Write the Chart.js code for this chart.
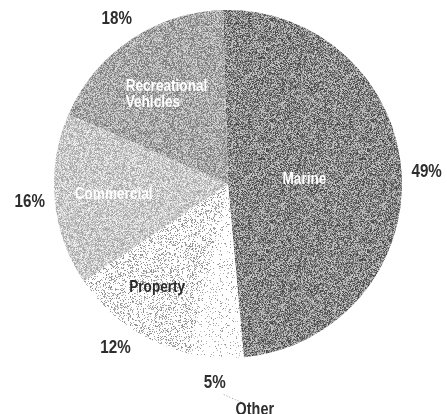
<!DOCTYPE html>
<html>
<head>
<meta charset="utf-8">
<script src="https://cdn.jsdelivr.net/npm/chart.js@4/dist/chart.umd.min.js"></script>
<style>
  html, body { margin: 0; padding: 0; background: #ffffff; }
  canvas { display: block; }
</style>
</head>
<body>
<canvas id="c" width="447" height="414"></canvas>
<script>
// ---- data ----
const categories = ['Marine', 'Other', 'Property', 'Commercial', 'Recreational Vehicles'];
const shares = [49, 5, 12, 16, 18];
const percentLabels = ['49%', '5%', '12%', '16%', '18%'];
const insideLabels = [['Marine'], [], ['Property'], ['Commercial'], ['Recreational', 'Vehicles']];
const outsideNames = ['', 'Other', '', '', ''];

// ---- styles ----
const FONT = '"Liberation Sans", Arial, sans-serif';
// texture: noise -> mean, amplitude ; dots -> dotGrey, probability, paper
const textures = [
  ['noise', 136, 150],
  ['dots', 170, 0.10, 255],
  ['dots', 160, 0.24, 253],
  ['noise', 202, 90],
  ['noise', 168, 110]
];
const insideColors = ['#ffffff', '#333333', '#2a2a2a', '#ffffff', '#ffffff'];
const insideRadius = [0.44, 0.6, 0.72, 0.66, 0.62];
const insideAlign = ['center', 'center', 'center', 'center', 'left'];

function hash(x, y, s) {
  let h = (x * 374761393 + y * 668265263 + s * 982451653) | 0;
  h = Math.imul(h ^ (h >>> 13), 1274126177);
  h = h ^ (h >>> 16);
  return ((h >>> 0) % 10000) / 10000;
}
function makePattern(t, seed) {
  const size = 101;
  const cv = document.createElement('canvas');
  cv.width = size; cv.height = size;
  const cx = cv.getContext('2d');
  const img = cx.createImageData(size, size);
  for (let y = 0; y < size; y++) {
    for (let x = 0; x < size; x++) {
      const r = hash(x, y, seed);
      let v;
      if (t[0] === 'noise') {
        v = Math.max(0, Math.min(255, t[1] + (r - 0.5) * t[2]));
      } else {
        const r2 = hash(y + 7, x + 3, seed + 11);
        v = r < t[2] ? t[1] + (r2 - 0.5) * 60 : t[3];
      }
      const i = (y * size + x) * 4;
      img.data[i] = img.data[i + 1] = img.data[i + 2] = v;
      img.data[i + 3] = 255;
    }
  }
  cx.putImageData(img, 0, 0);
  return cx.createPattern(cv, 'repeat');
}

const ctx0 = document.getElementById('c').getContext('2d');
const fills = textures.map((t, i) => makePattern(t, i + 3));

function condText(ctx, text, x, y, size, align, color) {
  ctx.save();
  ctx.font = 'bold ' + size + 'px ' + FONT;
  ctx.fillStyle = color;
  ctx.textAlign = align;
  ctx.textBaseline = 'middle';
  ctx.translate(x, y);
  ctx.scale(0.8, 1);
  ctx.fillText(text, 0, 0);
  ctx.restore();
}

const labelPlugin = {
  id: 'pieLabels',
  afterDatasetsDraw(chart) {
    const ctx = chart.ctx;
    const meta = chart.getDatasetMeta(0);
    meta.data.forEach((arc, i) => {
      const { x, y, startAngle, endAngle, outerRadius } = arc.getProps(['x', 'y', 'startAngle', 'endAngle', 'outerRadius'], true);
      const mid = (startAngle + endAngle) / 2;
      const c = Math.cos(mid), s = Math.sin(mid);
      const d = outerRadius + 25;
      const px = x + c * d, py = y + s * d;
      condText(ctx, percentLabels[i], px, py, 19, 'center', '#2e2e2e');
      if (outsideNames[i]) {
        ctx.save();
        ctx.strokeStyle = '#999';
        ctx.lineWidth = 1;
        ctx.setLineDash([1, 2]);
        ctx.beginPath();
        ctx.moveTo(px + 9, py + 12);
        ctx.lineTo(px + 27, py + 20);
        ctx.stroke();
        ctx.restore();
        condText(ctx, outsideNames[i], px + 40, py + 27, 18, 'center', '#2e2e2e');
      }
      const lines = insideLabels[i];
      if (lines.length) {
        const r = outerRadius * insideRadius[i];
        let ix = x + c * r;
        const iy = y + s * r;
        if (insideAlign[i] === 'left') ix -= 42;
        const lh = 16;
        lines.forEach((ln, k) => {
          condText(ctx, ln, ix, iy + (k - (lines.length - 1) / 2) * lh, 17, insideAlign[i], insideColors[i]);
        });
      }
    });
  }
};

new Chart(ctx0, {
  type: 'pie',
  data: {
    labels: categories,
    datasets: [{
      data: shares,
      backgroundColor: fills,
      borderWidth: 0,
      hoverOffset: 0
    }]
  },
  options: {
    responsive: false,
    devicePixelRatio: 1,
    animation: false,
    rotation: -1.6,
    layout: { padding: { top: 10, bottom: 56, left: 54, right: 45 } },
    plugins: {
      legend: { display: false },
      tooltip: { enabled: false },
      title: { display: false }
    }
  },
  plugins: [labelPlugin]
});
</script>
</body>
</html>
